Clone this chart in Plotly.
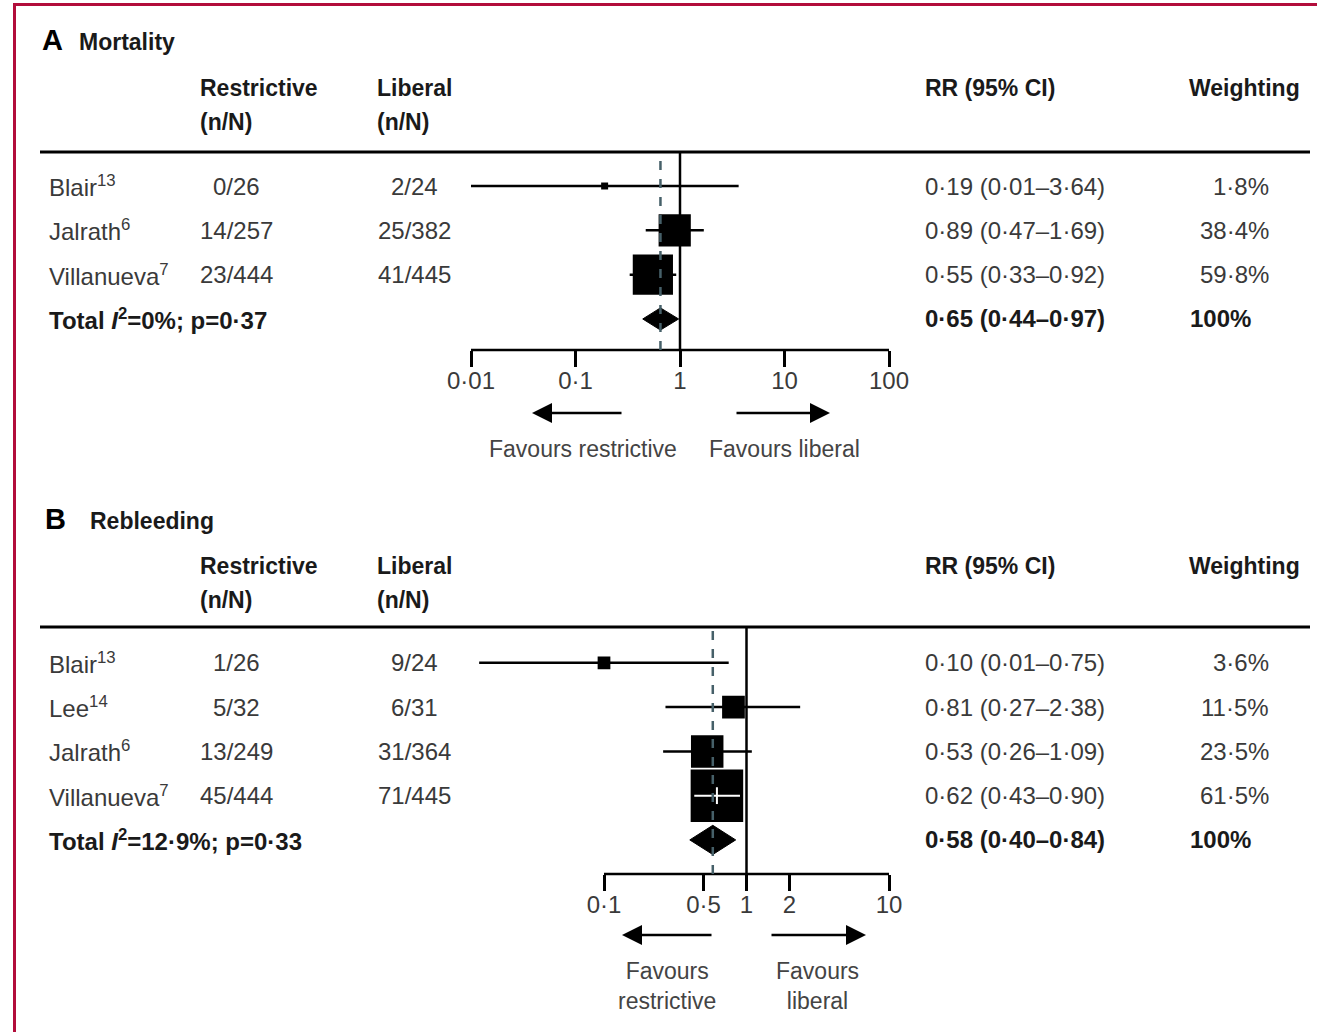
import math
import plotly.graph_objects as go

W, H = 1317, 1032

# ---------------- data ----------------
# Panel A: Mortality
a_studies = ["Blair<sup>13</sup>", "Jalrath<sup>6</sup>", "Villanueva<sup>7</sup>"]
a_restrictive = ["0/26", "14/257", "23/444"]
a_liberal = ["2/24", "25/382", "41/445"]
a_rr = [0.19, 0.89, 0.55]
a_lo = [0.01, 0.47, 0.33]
a_hi = [3.64, 1.69, 0.92]
a_weight = [1.8, 38.4, 59.8]
a_total = [0.65, 0.44, 0.97]
a_total_label = "Total <i>I</i><sup>2</sup>=0%; p=0·37"
a_ticks = [0.01, 0.1, 1, 10, 100]
a_ticktext = ["0·01", "0·1", "1", "10", "100"]

# Panel B: Rebleeding
b_studies = ["Blair<sup>13</sup>", "Lee<sup>14</sup>", "Jalrath<sup>6</sup>", "Villanueva<sup>7</sup>"]
b_restrictive = ["1/26", "5/32", "13/249", "45/444"]
b_liberal = ["9/24", "6/31", "31/364", "71/445"]
b_rr = [0.10, 0.81, 0.53, 0.62]
b_lo = [0.0133, 0.27, 0.26, 0.43]
b_hi = [0.75, 2.38, 1.09, 0.90]
b_weight = [3.6, 11.5, 23.5, 61.5]
b_total = [0.58, 0.40, 0.84]
b_total_label = "Total <i>I</i><sup>2</sup>=12·9%; p=0·33"
b_ticks = [0.1, 0.5, 1, 2, 10]
b_ticktext = ["0·1", "0·5", "1", "2", "10"]

# ---------------- styling ----------------
FONT = "Liberation Sans"
TXT = "#3a3a3a"
HDR = "#1a1a1a"
BORDER = "#b20d3b"
DASH = "#466069"
FS = 24


def px(x):
    return x / W


def py(y):
    return 1 - y / H


def fmt(v):
    return f"{v:.2f}".replace(".", "·")


def fmtw(w):
    return f"{w:.1f}".replace(".", "·") + "%"


fig = go.Figure()
ann = []
shapes = []

panels = [
    dict(idx="", studies=a_studies, res=a_restrictive, lib=a_liberal, rr=a_rr, lo=a_lo, hi=a_hi,
         w=a_weight, tot=a_total, totlab=a_total_label, ticks=a_ticks, ticktext=a_ticktext,
         letter="A", title="Mortality", title_y=42, letter_x=40, title_x=77,
         hdr1=88, hdr2=122, rule=152, axis=350, x0=471, x1=889, rng=[-2, 2],
         yr=[3.70, -0.767], k=5.2, dh=0.25, arrow_y=413, fav_y=449,
         fav_l=("Favours restrictive", 583), fav_r=("Favours liberal", 784),
         arr_l=(532, 623), arr_r=(830, 735), white=[False, False, False]),
    dict(idx="2", studies=b_studies, res=b_restrictive, lib=b_liberal, rr=b_rr, lo=b_lo, hi=b_hi,
         w=b_weight, tot=b_total, totlab=b_total_label, ticks=b_ticks, ticktext=b_ticktext,
         letter="B", title="Rebleeding", title_y=521, letter_x=43, title_x=88,
         hdr1=566, hdr2=600, rule=627, axis=874, x0=604 - 142.5, x1=889, rng=[-2, 1],
         yr=[4.77, -0.81], k=6.7, dh=0.33, arrow_y=935, fav_y=986,
         fav_l=("Favours<br>restrictive", 667), fav_r=("Favours<br>liberal", 817),
         arr_l=(622, 713), arr_r=(866, 770), white=[False, False, False, True]),
]

layout_axes = {}
for p in panels:
    i = p["idx"]
    xa = "x" + i
    ya = "y" + i
    n = len(p["studies"])
    rows = list(range(n))
    trow = n

    layout_axes["xaxis" + i] = dict(
        domain=[px(p["x0"]), px(p["x1"])], type="log", range=p["rng"], anchor=ya,
        tickvals=p["ticks"], ticktext=p["ticktext"], ticks="outside", ticklen=16,
        tickwidth=2.5, tickcolor="black", showline=False,
        showgrid=False, zeroline=False, tickfont=dict(family=FONT, size=FS, color=TXT),
        ticklabelstandoff=-7, fixedrange=True, automargin=False,
    )
    layout_axes["yaxis" + i] = dict(
        domain=[py(p["axis"]), py(p["rule"])], range=p["yr"], anchor=xa, visible=False,
        fixedrange=True, automargin=False,
    )

    # axis line from first to last tick
    shapes.append(dict(type="line", xref=xa, yref=ya + " domain", x0=p["ticks"][0], x1=p["ticks"][-1],
                       y0=0, y1=0, line=dict(color="black", width=2.5)))
    # reference line at 1 and dashed pooled line
    shapes.append(dict(type="line", xref=xa, yref=ya + " domain", x0=1, x1=1, y0=0, y1=1,
                       line=dict(color="black", width=2.5)))
    shapes.append(dict(type="line", xref=xa, yref=ya + " domain", x0=p["tot"][0], x1=p["tot"][0],
                       y0=0, y1=1, line=dict(color=DASH, width=2.5, dash="dash")))
    # header rule
    shapes.append(dict(type="line", xref="paper", yref="paper", x0=px(40), x1=px(1310),
                       y0=py(p["rule"]), y1=py(p["rule"]), line=dict(color="black", width=3)))

    # CI lines
    xs, ys = [], []
    for r, lo, hi in zip(rows, p["lo"], p["hi"]):
        xs += [lo, hi, None]
        ys += [r, r, None]
    fig.add_trace(go.Scatter(x=xs, y=ys, mode="lines", xaxis=xa, yaxis=ya,
                             line=dict(color="black", width=2.5), hoverinfo="skip", showlegend=False))
    # squares (side proportional to sqrt of weight)
    sizes = [p["k"] * math.sqrt(w) for w in p["w"]]
    fig.add_trace(go.Scatter(x=p["rr"], y=rows, mode="markers", xaxis=xa, yaxis=ya,
                             marker=dict(symbol="square", size=sizes, color="black", opacity=1,
                                         line=dict(width=0)),
                             showlegend=False))
    # white CI inside box where the CI is covered by the box
    for r, lo, hi, rr, wflag in zip(rows, p["lo"], p["hi"], p["rr"], p["white"]):
        if wflag:
            fig.add_trace(go.Scatter(x=[lo, hi], y=[r, r], mode="lines", xaxis=xa, yaxis=ya,
                                     line=dict(color="white", width=2), hoverinfo="skip",
                                     showlegend=False))
            fig.add_trace(go.Scatter(x=[rr], y=[r], mode="markers", xaxis=xa, yaxis=ya,
                                     marker=dict(symbol="line-ns", size=12, opacity=1,
                                                 line=dict(color="white", width=2)),
                                     hoverinfo="skip", showlegend=False))
    # diamond
    est, lo, hi = p["tot"]
    dh = p["dh"]
    fig.add_trace(go.Scatter(x=[lo, est, hi, est, lo], y=[trow, trow - dh, trow, trow + dh, trow],
                             mode="lines", fill="toself", fillcolor="black", xaxis=xa, yaxis=ya,
                             line=dict(color="black", width=1), showlegend=False))

    # title
    ann.append(dict(text="<b>" + p["letter"] + "</b>", x=px(p["letter_x"]), y=py(p["title_y"] - 2),
                    xref="paper", yref="paper", xanchor="left", yanchor="middle", showarrow=False,
                    font=dict(family=FONT, size=29, color="black")))
    ann.append(dict(text="<b>" + p["title"] + "</b>", x=px(p["title_x"]), y=py(p["title_y"]),
                    xref="paper", yref="paper", xanchor="left", yanchor="middle", showarrow=False,
                    font=dict(family=FONT, size=23, color=HDR)))
    # headers
    for txt, xx, yy in [("Restrictive", 198, p["hdr1"]), ("(n/N)", 198, p["hdr2"]),
                        ("Liberal", 375, p["hdr1"]), ("(n/N)", 375, p["hdr2"]),
                        ("RR (95% CI)", 923, p["hdr1"]), ("Weighting", 1187, p["hdr1"])]:
        ann.append(dict(text="<b>" + txt + "</b>", x=px(xx), y=py(yy), xref="paper", yref="paper",
                        xanchor="left", yanchor="middle", showarrow=False,
                        font=dict(family=FONT, size=23, color=HDR)))

    # rows
    for r in rows:
        cells = [
            (p["studies"][r], 47, "left"),
            (p["res"][r], 236, "center"),
            (p["lib"][r], 414, "center"),
            (fmt(p["rr"][r]) + " (" + fmt(p["lo"][r]) + "–" + fmt(p["hi"][r]) + ")", 923, "left"),
            (fmtw(p["w"][r]), 1271, "right"),
        ]
        for txt, xx, al in cells:
            ann.append(dict(text=txt, x=px(xx), y=r, xref="paper", yref=ya, xanchor=al,
                            yanchor="middle", showarrow=False,
                            font=dict(family=FONT, size=FS, color=TXT)))
    # total row
    for txt, xx in [(p["totlab"], 47),
                    (fmt(est) + " (" + fmt(lo) + "–" + fmt(hi) + ")", 923),
                    ("100%", 1188)]:
        ann.append(dict(text="<b>" + txt + "</b>", x=px(xx), y=trow, xref="paper", yref=ya,
                        xanchor="left", yanchor="middle", showarrow=False,
                        font=dict(family=FONT, size=FS, color=HDR)))

    # arrows
    for head, tail in [p["arr_l"], p["arr_r"]]:
        ann.append(dict(text="", x=px(head), y=py(p["arrow_y"]), xref="paper", yref="paper",
                        ax=tail - head, ay=0, axref="pixel", ayref="pixel", showarrow=True,
                        arrowhead=2, arrowsize=1.6, arrowwidth=2.5, arrowcolor="black"))
    for txt, xx in [p["fav_l"], p["fav_r"]]:
        ann.append(dict(text=txt, x=px(xx), y=py(p["fav_y"]), xref="paper", yref="paper",
                        xanchor="center", yanchor="middle", showarrow=False,
                        font=dict(family=FONT, size=23, color="#444444")))

# border
shapes.append(dict(type="line", xref="paper", yref="paper", x0=px(13), x1=1, y0=py(4.5), y1=py(4.5),
                   line=dict(color=BORDER, width=3)))
shapes.append(dict(type="line", xref="paper", yref="paper", x0=px(14.5), x1=px(14.5), y0=0,
                   y1=py(3), line=dict(color=BORDER, width=3)))

fig.update_layout(
    width=W, height=H, autosize=False,
    margin=dict(l=0, r=0, t=0, b=0, pad=0, autoexpand=False),
    paper_bgcolor="white", plot_bgcolor="white",
    showlegend=False, annotations=ann, shapes=shapes,
    **layout_axes,
)

fig.write_html(
    "out.html",
    config={"displayModeBar": False, "staticPlot": False},
    post_script="document.body.style.margin='0';document.body.style.overflow='hidden';",
)
